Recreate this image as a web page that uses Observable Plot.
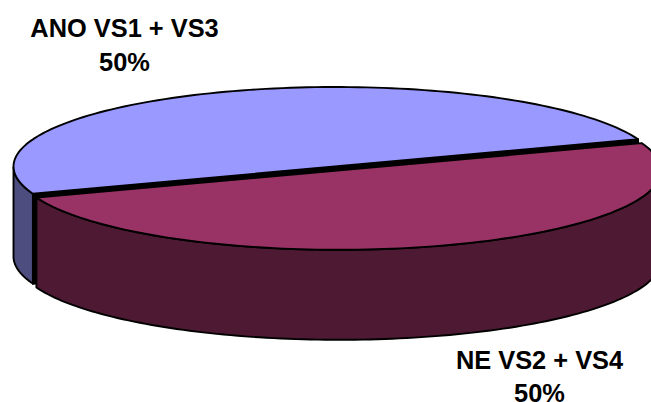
<!DOCTYPE html>
<html><head><meta charset="utf-8">
<script src="https://cdn.jsdelivr.net/npm/d3@7"></script>
<script src="https://cdn.jsdelivr.net/npm/@observablehq/plot@0.6"></script>
<style>html,body{margin:0;padding:0;background:#fff;overflow:hidden}svg{display:block}</style>
</head><body><div id="chart"></div>
<script>
const categories = ["ANO VS1 + VS3", "NE VS2 + VS4"];
const shares = [50, 50];
const topColors = ["#9999FF", "#993366"];
const sideColors = ["#4D4D80", "#4D1933"];

// Pie geometry (layout, not data)
const W = 651, H = 402;
const A = 322, B = 79.5, DEPTH = 90;
const CENTERS = [[335, 166], [338.5, 169.8]];
const START = 250 * Math.PI / 180;
const LABEL_AT = [[124, 12.5], [539, 344]];

const arcs = d3.pie().sort(null).startAngle(START).endAngle(START + 2 * Math.PI)(shares);
const theta = a => a - Math.PI / 2;
const pt = (i, t, drop = 0) => ({x: CENTERS[i][0] + A * Math.cos(t), y: CENTERS[i][1] + B * Math.sin(t) + drop});
const sweep = (t0, t1) => d3.range(0, 121).map(k => t0 + (t1 - t0) * k / 120);

const tops = [], sides = [], cuts = [];
arcs.forEach((arc, i) => {
  const t0 = theta(arc.startAngle), t1 = theta(arc.endAngle);
  tops.push(...sweep(t0, t1).map(t => ({...pt(i, t), i})));
  // The visible rim: the part of the arc on the near half of the ellipse
  let lo = Infinity, hi = -Infinity;
  for (const t of sweep(t0, t1)) {
    const s = Math.sin(t);
    if (s >= 0) { lo = Math.min(lo, t); hi = Math.max(hi, t); }
  }
  if (hi > lo) {
    const rim = sweep(lo, hi);
    sides.push(...rim.map(t => ({...pt(i, t), i})), ...rim.slice().reverse().map(t => ({...pt(i, t, DEPTH), i})));
  }
  if (i === 0) {
    cuts.push(pt(i, t0), pt(i, t1), pt(i, t1, DEPTH), pt(i, t0, DEPTH));
  }
});
const ofSlice = (rows, i) => rows.filter(d => d.i === i);
const sw = 1.9;
const labels = categories.map((c, i) => ({text: `${c}\n${shares[i]}%`, x: LABEL_AT[i][0], y: LABEL_AT[i][1]}));

const polygon = (rows, fill) => Plot.line(rows, {x: "x", y: "y", fill, stroke: "#000", strokeWidth: sw, strokeLinejoin: "round", curve: "linear-closed"});

const chart = Plot.plot({
  width: W, height: H, margin: 0,
  x: {domain: [0, W], range: [0, W], axis: null},
  y: {domain: [0, H], range: [0, H], axis: null},
  marks: [
    polygon(ofSlice(sides, 0), sideColors[0]),
    polygon(cuts, "#000"),
    polygon(ofSlice(tops, 0), topColors[0]),
    polygon(ofSlice(sides, 1), sideColors[1]),
    polygon(ofSlice(tops, 1), topColors[1]),
    Plot.text(labels, {x: "x", y: "y", text: "text", lineAnchor: "top", lineHeight: 1.335, fontSize: 25.4, fontWeight: "bold", fontFamily: "Liberation Sans, Arial, sans-serif", fill: "#000"})
  ]
});
document.getElementById("chart").append(chart);
</script></body></html>
